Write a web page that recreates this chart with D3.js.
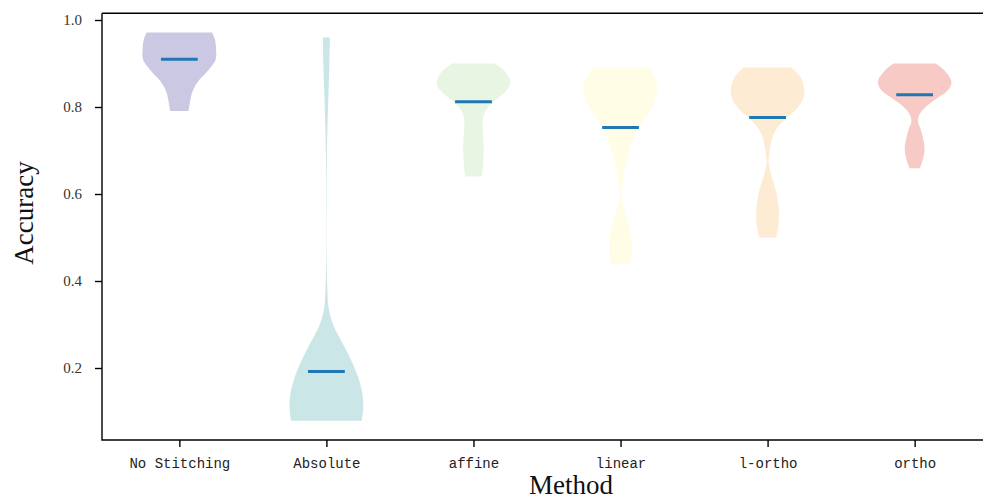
<!DOCTYPE html>
<html>
<head>
<meta charset="utf-8">
<script src="https://cdn.jsdelivr.net/npm/d3@7"></script>
<style>
  html, body { margin: 0; padding: 0; background: #fff; }
  svg { display: block; }
</style>
</head>
<body>
<svg id="chart" width="983" height="500"></svg>
<script>
// ---- data ----
const categories = ["No Stitching", "Absolute", "affine", "linear", "l-ortho", "ortho"];
const medians = [0.910, 0.192, 0.812, 0.753, 0.776, 0.828];
const fillColors = ["#cbc8e3", "#cbe6e6", "#e9f5e3", "#fffde6", "#fdebd4", "#f7cac5"];
const yTicks = [0.2, 0.4, 0.6, 0.8, 1.0];

// density profiles: [accuracy, relative density (1 = widest)]
const profileNoStitching = [
  [0.971, 0.89], [0.954, 0.97], [0.931, 1.0], [0.910, 0.99], [0.893, 0.87],
  [0.877, 0.71], [0.862, 0.54], [0.847, 0.42], [0.831, 0.34], [0.816, 0.30], [0.791, 0.25]
];
const profileAbsolute = [
  [0.960, 0.096], [0.900, 0.082], [0.824, 0.055], [0.747, 0.027], [0.671, 0.011],
  [0.556, 0.005], [0.441, 0.008], [0.379, 0.027], [0.341, 0.055], [0.310, 0.14],
  [0.287, 0.25], [0.249, 0.49], [0.211, 0.71], [0.172, 0.89], [0.134, 0.99],
  [0.103, 1.0], [0.079, 0.96]
];
const profileAffine = [
  [0.900, 0.58], [0.885, 0.82], [0.870, 0.95], [0.854, 1.0], [0.843, 0.95],
  [0.831, 0.82], [0.812, 0.55], [0.793, 0.34], [0.770, 0.25], [0.740, 0.26],
  [0.709, 0.28], [0.678, 0.27], [0.655, 0.25], [0.640, 0.23]
];
const profileLinear = [
  [0.891, 0.74], [0.870, 0.92], [0.843, 1.0], [0.816, 0.95], [0.793, 0.81],
  [0.770, 0.62], [0.753, 0.49], [0.732, 0.37], [0.701, 0.24], [0.663, 0.13],
  [0.625, 0.06], [0.602, 0.02], [0.571, 0.08], [0.540, 0.18], [0.510, 0.28],
  [0.479, 0.31], [0.456, 0.30], [0.439, 0.28]
];
const profileLOrtho = [
  [0.891, 0.65], [0.870, 0.89], [0.839, 1.0], [0.816, 0.95], [0.793, 0.76],
  [0.776, 0.52], [0.755, 0.29], [0.732, 0.14], [0.701, 0.06], [0.671, 0.03],
  [0.640, 0.11], [0.609, 0.22], [0.579, 0.29], [0.548, 0.31], [0.525, 0.29], [0.500, 0.23]
];
const profileOrtho = [
  [0.900, 0.57], [0.885, 0.80], [0.858, 1.0], [0.839, 0.91], [0.824, 0.68],
  [0.809, 0.43], [0.789, 0.18], [0.778, 0.11], [0.766, 0.09], [0.747, 0.17],
  [0.724, 0.24], [0.701, 0.27], [0.678, 0.22], [0.659, 0.14]
];
const profiles = [profileNoStitching, profileAbsolute, profileAffine, profileLinear, profileLOrtho, profileOrtho];

// ---- layout ----
const svg = d3.select("#chart");
const plot = { left: 102, right: 992, top: 13.3, bottom: 440 };
const violinWidth = 0.5; // in category units

const x = d3.scaleLinear().domain([-0.526, categories.length - 1 + 0.526]).range([plot.left, plot.right]);
const y = d3.scaleLinear().domain([0.0345, 1.0154]).range([plot.bottom, plot.top]);
const unit = x(1) - x(0);

// violins
const g = svg.append("g");
profiles.forEach((prof, i) => {
  const cx = x(i);
  const half = violinWidth / 2 * unit;
  const area = d3.area()
    .y(d => y(d[0]))
    .x0(d => cx - half * d[1])
    .x1(d => cx + half * d[1])
    .curve(d3.curveCatmullRom.alpha(0.5));
  g.append("path")
    .datum(prof)
    .attr("d", area)
    .attr("fill", fillColors[i])
    .attr("stroke", "none");
});

// median lines
g.selectAll("line.median")
  .data(medians)
  .join("line")
  .attr("class", "median")
  .attr("x1", (d, i) => x(i) - violinWidth / 4 * unit)
  .attr("x2", (d, i) => x(i) + violinWidth / 4 * unit)
  .attr("y1", d => y(d))
  .attr("y2", d => y(d))
  .attr("stroke", "#1f77b4")
  .attr("stroke-width", 3);

// axes
const yAxis = d3.axisLeft(y).tickValues(yTicks).tickFormat(d3.format(".1f")).tickSize(7).tickPadding(13);
const yG = svg.append("g").attr("transform", `translate(${plot.left},0)`).call(yAxis);
yG.select(".domain").remove();
yG.selectAll(".tick line").attr("stroke", "#000").attr("stroke-width", 1.4);
yG.selectAll(".tick text")
  .attr("font-family", "'Liberation Serif', 'DejaVu Serif', serif")
  .attr("font-size", 15)
  .attr("fill", "#333");

const xAxis = d3.axisBottom(x).tickValues(d3.range(categories.length)).tickFormat(i => categories[i]).tickSize(7).tickPadding(11);
const xG = svg.append("g").attr("transform", `translate(0,${plot.bottom})`).call(xAxis);
xG.select(".domain").remove();
xG.selectAll(".tick line").attr("stroke", "#000").attr("stroke-width", 1.4);
xG.selectAll(".tick text")
  .attr("font-family", "'Liberation Mono', 'DejaVu Sans Mono', monospace")
  .attr("font-size", 14)
  .attr("fill", "#222");

// spines (left, bottom, top; right is beyond the picture)
svg.append("path")
  .attr("d", `M${plot.left},${plot.top}V${plot.bottom}H${plot.right}M${plot.left},${plot.top}H${plot.right}`)
  .attr("fill", "none")
  .attr("stroke", "#000")
  .attr("stroke-width", 1.4);

// axis labels
svg.append("text")
  .attr("x", 571).attr("y", 494)
  .attr("text-anchor", "middle")
  .attr("font-family", "'Liberation Serif', 'DejaVu Serif', serif")
  .attr("font-size", 27)
  .attr("fill", "#111")
  .text("Method");

svg.append("text")
  .attr("transform", "translate(33,213) rotate(-90)")
  .attr("text-anchor", "middle")
  .attr("font-family", "'Liberation Serif', 'DejaVu Serif', serif")
  .attr("font-size", 27)
  .attr("fill", "#111")
  .text("Accuracy");
</script>
</body>
</html>
